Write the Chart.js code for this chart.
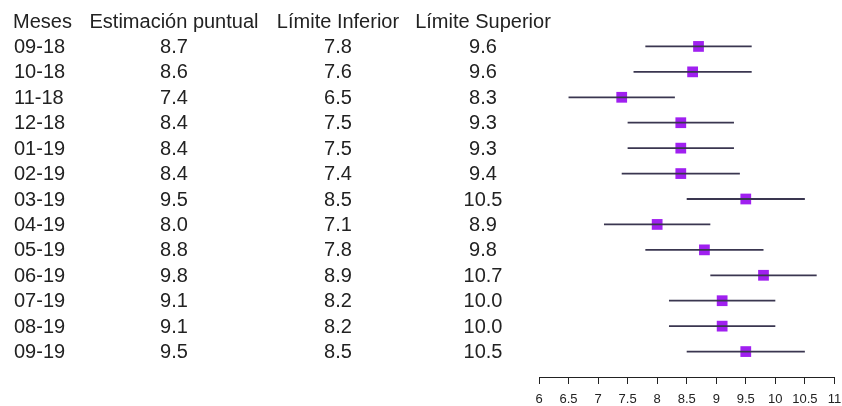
<!DOCTYPE html>
<html>
<head>
<meta charset="utf-8">
<script src="https://cdn.jsdelivr.net/npm/chart.js@4/dist/chart.umd.min.js"></script>
<style>
  html, body { margin: 0; padding: 0; background: #fff; }
  #wrap { width: 842px; height: 406px; }
</style>
</head>
<body>
<div id="wrap"><canvas id="myChart" width="842" height="406"></canvas></div>
<script>
const meses = ["09-18", "10-18", "11-18", "12-18", "01-19", "02-19", "03-19",
  "04-19", "05-19", "06-19", "07-19", "08-19", "09-19"];
const estimacion = [8.7, 8.6, 7.4, 8.4, 8.4, 8.4, 9.5, 8.0, 8.8, 9.8, 9.1, 9.1, 9.5];
const inferior = [7.8, 7.6, 6.5, 7.5, 7.5, 7.4, 8.5, 7.1, 7.8, 8.9, 8.2, 8.2, 8.5];
const superior = [9.6, 9.6, 8.3, 9.3, 9.3, 9.4, 10.5, 8.9, 9.8, 10.7, 10.0, 10.0, 10.5];
const headers = ["Meses", "Estimación puntual", "Límite Inferior", "Límite Superior"];
const xTicks = { min: 6, max: 11, step: 0.5 };

const TEXT_FONT = "20px 'Liberation Sans', Arial, sans-serif";
const TEXT_COLOR = "#222";
const LINE_COLOR = "#3a3650";
const MARK_COLOR = "#A020F0";

// horizontal segment for every interval
const ciSets = meses.map((m, i) => ({
  type: "line",
  data: [{ x: inferior[i], y: i }, { x: superior[i], y: i }],
  borderColor: LINE_COLOR,
  borderWidth: 1.8,
  pointRadius: 0,
  clip: false,
}));

const pointSet = {
  type: "scatter",
  data: estimacion.map((v, i) => ({ x: v, y: i })),
  pointStyle: "rect",
  pointRadius: 7.6,
  pointHoverRadius: 7.6,
  backgroundColor: MARK_COLOR,
  borderWidth: 0,
  clip: false,
};

// the table on the left, placed on the rows of the y scale
const tablePlugin = {
  id: "tabla",
  afterDraw(chart) {
    const ctx = chart.ctx;
    const y = chart.scales.y;
    ctx.save();
    ctx.font = TEXT_FONT;
    ctx.fillStyle = TEXT_COLOR;
    ctx.textBaseline = "middle";
    const cols = [
      { x: 14, align: "left" },
      { x: 174, align: "center" },
      { x: 338, align: "center" },
      { x: 483, align: "center" },
    ];
    const yh = y.getPixelForValue(-1) + 1;
    headers.forEach((h, c) => {
      ctx.textAlign = cols[c].align;
      ctx.fillText(h, c === 0 ? 13 : cols[c].x, yh);
    });
    meses.forEach((m, i) => {
      const yy = y.getPixelForValue(i) + 1;
      const row = [m, estimacion[i].toFixed(1), inferior[i].toFixed(1), superior[i].toFixed(1)];
      row.forEach((t, c) => {
        ctx.textAlign = cols[c].align;
        ctx.fillText(t, cols[c].x, yy);
      });
    });
    ctx.restore();
  },
};

new Chart(document.getElementById("myChart"), {
  data: { datasets: [...ciSets, pointSet] },
  options: {
    responsive: false,
    animation: false,
    events: [],
    layout: { padding: { left: 539, right: 2, top: 21, bottom: 0 } },
    plugins: { legend: { display: false }, tooltip: { enabled: false } },
    scales: {
      x: {
        type: "linear",
        position: "bottom",
        min: xTicks.min,
        max: xTicks.max,
        afterFit: (s) => {
          s.paddingLeft = 0;
          s.paddingRight = 0;
          s.height = 29;
        },
        ticks: {
          stepSize: xTicks.step,
          color: "#222",
          padding: 8,
          maxRotation: 0,
          minRotation: 0,
          autoSkip: false,
          callback: (v) => String(Math.round(v * 10) / 10),
          font: { family: "'Liberation Sans', Arial, sans-serif", size: 13 },
        },
        grid: {
          drawOnChartArea: false,
          drawTicks: true,
          tickLength: 7,
          tickColor: "#222",
          tickWidth: 1,
        },
        border: { display: true, color: "#222", width: 1 },
      },
      y: {
        type: "linear",
        reverse: true,
        min: -1,
        max: 13,
        display: false,
      },
    },
  },
  plugins: [tablePlugin],
});
</script>
</body>
</html>
